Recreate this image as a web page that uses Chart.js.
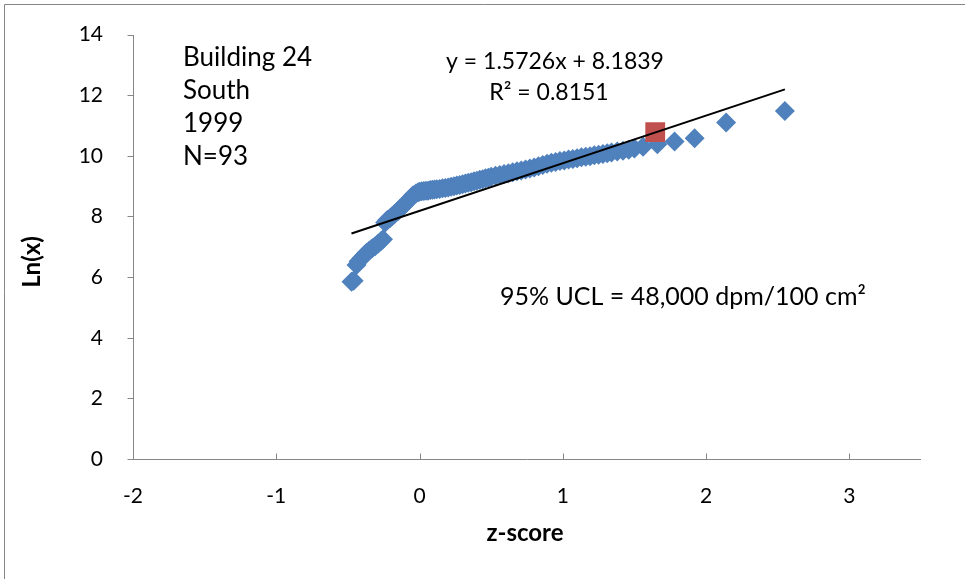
<!DOCTYPE html>
<html><head><meta charset="utf-8">
<script src="https://cdn.jsdelivr.net/npm/chart.js@4"></script>
<style>html,body{margin:0;padding:0;background:#fff}#wrap{width:965px;height:580px;position:relative}</style>
</head><body><div id="wrap"><canvas id="c" width="965" height="580"></canvas></div>
<script>
// ---- data ----
const zScores = [
  -0.475, -0.46,
  -0.44, -0.425, -0.405, -0.385, -0.37, -0.35, -0.33, -0.31, -0.29, -0.27, -0.255,
  -0.24, -0.225, -0.205, -0.19, -0.17, -0.15, -0.135, -0.115, -0.095, -0.08, -0.06, -0.045,
  -0.025, -0.01, 0.00, 0.015, 0.03, 0.045, 0.06, 0.075, 0.09, 0.105, 0.12, 0.14, 0.16, 0.18,
  0.20, 0.22, 0.24, 0.26, 0.28, 0.30, 0.32, 0.34, 0.36, 0.38, 0.40, 0.42, 0.44, 0.46, 0.48,
  0.50, 0.53, 0.56, 0.59, 0.62, 0.65, 0.68, 0.71, 0.74, 0.77, 0.80, 0.83, 0.86, 0.89, 0.92,
  0.95, 0.98, 1.01, 1.04, 1.07, 1.10, 1.13, 1.16, 1.19, 1.22, 1.25, 1.28, 1.31, 1.34, 1.38,
  1.42, 1.46, 1.50,
  1.56, 1.66, 1.78, 1.92, 2.14, 2.55
];
const lnValues = [
  5.85, 5.88,
  6.40, 6.52, 6.62, 6.72, 6.80, 6.88, 6.95, 7.02, 7.10, 7.18, 7.25,
  7.80, 7.88, 7.95, 8.02, 8.10, 8.18, 8.26, 8.35, 8.44, 8.52, 8.62, 8.70,
  8.76, 8.80, 8.82, 8.83, 8.84, 8.85, 8.85, 8.87, 8.88, 8.89, 8.90, 8.91, 8.93, 8.94,
  8.96, 8.98, 9.00, 9.02, 9.04, 9.06, 9.09, 9.11, 9.13, 9.16, 9.18, 9.21, 9.23, 9.26, 9.28,
  9.31, 9.34, 9.37, 9.40, 9.43, 9.46, 9.49, 9.52, 9.55, 9.58, 9.62, 9.66, 9.70, 9.74, 9.77,
  9.80, 9.83, 9.85, 9.88, 9.90, 9.92, 9.95, 9.97, 9.99, 10.02, 10.04, 10.06, 10.09, 10.11, 10.14,
  10.17, 10.20, 10.24,
  10.30, 10.38, 10.47, 10.58, 11.10, 11.48
];
const uclZ = [1.645];
const uclLn = [10.78];
const trendSlope = 1.5726;
const trendIntercept = 8.1839;
const xTickValues = [-2, -1, 0, 1, 2, 3];
const yTickValues = [0, 2, 4, 6, 8, 10, 12, 14];
const infoLines = ['Building 24', 'South', '1999', 'N=93'];
const equationText = 'y = 1.5726x + 8.1839';
const r2Text = 'R\u00B2 = 0.8151';
const uclText = '95% UCL = 48,000 dpm/100 cm\u00B2';
const xTitle = 'z-score';
const yTitle = 'Ln(x)';

// ---- build datasets ----
const pts = zScores.map((z, i) => ({x: z, y: lnValues[i]}));
const uclPts = uclZ.map((z, i) => ({x: z, y: uclLn[i]}));
const zMin = Math.min(...zScores), zMax = Math.max(...zScores);
const trendPts = [zMin, zMax].map(z => ({x: z, y: trendSlope * z + trendIntercept}));

const FONT = 'Lato';
const AXIS_COLOR = '#868686';

const decor = {
  id: 'decor',
  afterDraw(chart) {
    const ctx = chart.ctx;
    const xs = chart.scales.x, ys = chart.scales.y;
    const ca = chart.chartArea;
    ctx.save();
    // outer border
    ctx.strokeStyle = AXIS_COLOR; ctx.lineWidth = 1;
    ctx.beginPath();
    ctx.moveTo(4.5, 579); ctx.lineTo(4.5, 4.5); ctx.lineTo(965, 4.5);
    ctx.stroke();
    // axes
    const ax = Math.round(ca.left) + 0.5, ay = Math.round(ca.bottom) + 0.5;
    ctx.beginPath();
    ctx.moveTo(ax, Math.round(ca.top)); ctx.lineTo(ax, ay);
    ctx.lineTo(Math.round(ca.right), ay);
    yTickValues.forEach(v => { const py = Math.round(ys.getPixelForValue(v)) + 0.5; ctx.moveTo(ax - 6, py); ctx.lineTo(ax, py); });
    xTickValues.forEach(v => { const px = Math.round(xs.getPixelForValue(v)) + 0.5; ctx.moveTo(px, ay); ctx.lineTo(px, ay - 6); });
    ctx.stroke();
    // texts
    ctx.fillStyle = '#000';
    ctx.textBaseline = 'middle';
    ctx.textAlign = 'left';
    ctx.font = '26px ' + FONT;
    infoLines.forEach((t, i) => ctx.fillText(t, 183, 58 + i * 33));
    ctx.textAlign = 'center';
    ctx.font = '23px ' + FONT;
    ctx.fillText(equationText, 555, 62);
    ctx.fillText(r2Text, 549, 93);
    ctx.textAlign = 'left';
    ctx.font = '25px ' + FONT;
    ctx.fillText(uclText, 500, 297);
    ctx.font = 'bold 24px ' + FONT;
    ctx.textAlign = 'center';
    ctx.fillText(xTitle, 525, 533);
    ctx.translate(32, 262); ctx.rotate(-Math.PI / 2);
    ctx.fillText(yTitle, 0, 0);
    ctx.restore();
  }
};

new Chart(document.getElementById('c'), {
  type: 'scatter',
  data: {
    datasets: [
      { type: 'line', label: 'trend', data: trendPts, borderColor: '#000', borderWidth: 2, pointRadius: 0, fill: false, order: 0 },
      { label: 'UCL', data: uclPts, pointStyle: 'rect', pointRadius: 14, pointHoverRadius: 14, backgroundColor: '#C0504D', borderColor: '#C0504D', borderWidth: 0, order: 1 },
      { label: 'Ln(x)', data: pts, pointStyle: 'rectRot', pointRadius: 10, pointHoverRadius: 10, backgroundColor: '#4F81BD', borderColor: '#4F81BD', borderWidth: 0, order: 2 }
    ]
  },
  options: {
    responsive: false, animation: false, devicePixelRatio: 1,
    layout: { padding: { top: 34, right: 44, left: 0, bottom: 0 } },
    plugins: { legend: { display: false }, tooltip: { enabled: false } },
    scales: {
      x: {
        type: 'linear', min: -2, max: 3.5,
        grid: { display: false }, border: { display: false },
        afterBuildTicks: s => { s.ticks = xTickValues.map(v => ({ value: v })); },
        afterFit: s => { s.height = 121; },
        ticks: { color: '#000', font: { family: FONT, size: 21 }, padding: 17, maxRotation: 0 }
      },
      y: {
        type: 'linear', min: 0, max: 14,
        grid: { display: false }, border: { display: false },
        afterBuildTicks: s => { s.ticks = yTickValues.map(v => ({ value: v })); },
        afterFit: s => { s.width = 133; },
        ticks: { color: '#000', font: { family: FONT, size: 21 }, padding: 22 }
      }
    }
  },
  plugins: [decor]
});
</script></body></html>
